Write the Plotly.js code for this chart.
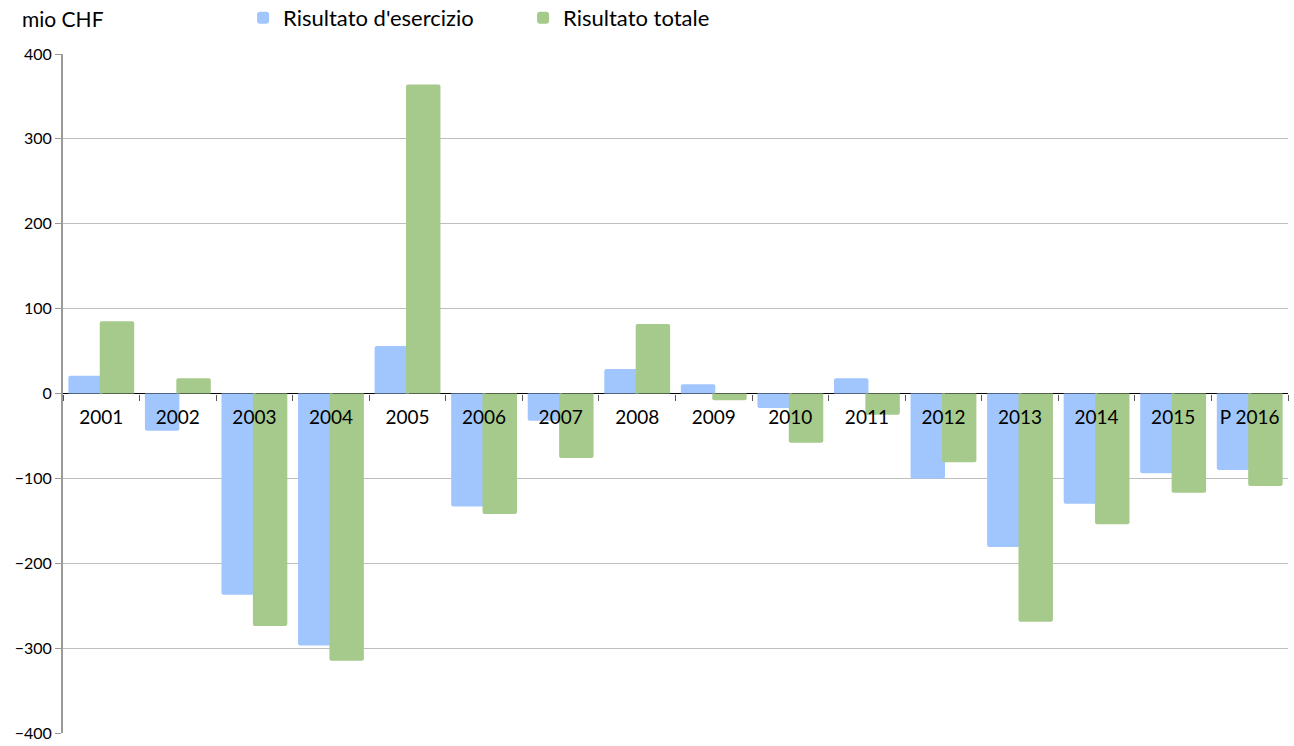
<!DOCTYPE html>
<html>
<head>
<meta charset="utf-8">
<script src="https://cdn.plot.ly/plotly-3.0.1.min.js"></script>
<style>
  html, body { margin: 0; padding: 0; background: #fff; }
  #chart { width: 1294px; height: 746px; }
</style>
</head>
<body>
<div id="chart"></div>
<script>
// dati (mio CHF)
const anni = ["2001", "2002", "2003", "2004", "2005", "2006", "2007", "2008",
  "2009", "2010", "2011", "2012", "2013", "2014", "2015", "P 2016"];
const risultatoEsercizio = [21, -44, -237, -297, 56, -133, -32, 29,
  11, -17, 18, -100, -181, -130, -94, -90];
const risultatoTotale = [85, 18, -274, -315, 364, -142, -76, 82,
  -8, -58, -25, -81, -269, -154, -117, -109];

const fontFam = 'Lato, "Open Sans", sans-serif';

const traces = [
  {
    type: "bar",
    name: "Risultato d'esercizio",
    x: anni,
    y: risultatoEsercizio,
    width: 0.45,
    offset: -0.43,
    marker: { color: "#a1c6fe", cornerradius: 2 },
  },
  {
    type: "bar",
    name: "Risultato totale",
    x: anni,
    y: risultatoTotale,
    width: 0.45,
    offset: -0.02,
    marker: { color: "#a6ca8b", cornerradius: 2 },
  },
];

const layout = {
  width: 1294,
  height: 746,
  barmode: "overlay",
  paper_bgcolor: "white",
  plot_bgcolor: "white",
  margin: { l: 63, r: 6, t: 54, b: 13, autoexpand: false },
  font: { family: fontFam, color: "#000" },
  showlegend: true,
  legend: {
    orientation: "h",
    x: 0.147,
    xanchor: "left",
    y: 1.053,
    yanchor: "middle",
    font: { size: 22, family: fontFam },
    entrywidth: 235,
    entrywidthmode: "pixels",
    itemwidth: 30,
    traceorder: "normal",
  },
  xaxis: {
    type: "category",
    anchor: "free",
    position: 0.5,
    showgrid: false,
    showline: false,
    zeroline: false,
    ticks: "outside",
    tickson: "boundaries",
    ticklen: 6,
    tickcolor: "#555",
    ticklabelstandoff: 10,
    tickfont: { size: 19, family: fontFam },
    range: [-0.5, 15.5],
  },
  yaxis: {
    range: [-400, 400],
    dtick: 100,
    showgrid: true,
    gridcolor: "#bdbdbd",
    gridwidth: 1,
    zeroline: true,
    zerolinecolor: "#000",
    zerolinewidth: 1.5,
    showline: true,
    linecolor: "#999999",
    linewidth: 2,
    ticks: "outside",
    ticklen: 6,
    tickcolor: "#999999",
    tickfont: { size: 16, family: fontFam },
  },
  annotations: [
    {
      xref: "paper",
      yref: "paper",
      x: -0.035,
      y: 1.053,
      xanchor: "left",
      yanchor: "middle",
      text: "mio CHF",
      showarrow: false,
      font: { size: 21, family: fontFam },
    },
  ],
};

Plotly.newPlot("chart", traces, layout, { displayModeBar: false, staticPlot: true });
</script>
</body>
</html>
